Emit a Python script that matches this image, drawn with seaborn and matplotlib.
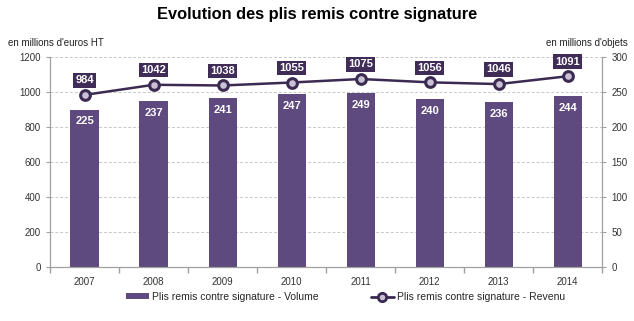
import matplotlib
matplotlib.use("Agg")
import matplotlib.pyplot as plt
import seaborn as sns
import pandas as pd
from matplotlib.lines import Line2D
from matplotlib.patches import Patch

years = ["2007", "2008", "2009", "2010", "2011", "2012", "2013", "2014"]
volume = [225, 237, 241, 247, 249, 240, 236, 244]
revenu = [984, 1042, 1038, 1055, 1075, 1056, 1046, 1091]

bar_color = "#5f4a7f"
line_color = "#3b2a52"
box_color = "#3f2c57"

sns.set_theme(style="white")
plt.rcParams['font.family'] = ['Liberation Sans', 'DejaVu Sans']

fig = plt.figure(figsize=(6.34, 3.21), dpi=100)
ax = fig.add_axes([0.079, 0.168, 0.871, 0.654])
ax2 = ax.twinx()

df = pd.DataFrame({"year": years, "volume": volume, "revenu": revenu})

sns.barplot(data=df, x="year", y="volume", ax=ax, color=bar_color, width=0.41,
            saturation=1, edgecolor="none")
ax.set_ylim(0, 300)
ax.set_yticks([0, 50, 100, 150, 200, 250, 300])
ax.yaxis.tick_right()
ax.yaxis.set_label_position("right")
ax.set_ylabel("")
ax.set_xlabel("")
ax.set_xlim(-0.5, len(years) - 0.5)
for y in [50, 100, 150, 200, 250, 300]:
    ax.axhline(y, color="#c8c8c8", lw=0.7, ls=(0, (3, 2)), zorder=0)

sns.lineplot(data=df, x="year", y="revenu", ax=ax2, color=line_color, lw=1.8,
             marker="o", markersize=7, markerfacecolor="#c9c1d4",
             markeredgecolor=line_color, markeredgewidth=2.2, sort=False)
ax2.set_ylim(0, 1200)
ax2.set_yticks([0, 200, 400, 600, 800, 1000, 1200])
ax2.yaxis.tick_left()
ax2.yaxis.set_label_position("left")
ax2.set_ylabel("")
ax2.set_xlabel("")

for a in (ax, ax2):
    a.spines["top"].set_visible(False)
    for s in ["left", "right", "bottom"]:
        a.spines[s].set_color("#a0a0a0")
        a.spines[s].set_linewidth(0.8)
    a.tick_params(axis="both", labelsize=7, colors="#333333", length=3,
                  width=0.8, direction="out")
    a.tick_params(axis="both", color="#a0a0a0")
ax.tick_params(axis="y", right=True, left=False)
ax2.tick_params(axis="y", left=True, right=False)
ax.set_xticks(range(len(years)))
ax.set_xticks([i - 0.5 for i in range(len(years) + 1)], minor=True)
ax.tick_params(axis="x", which="major", length=0, pad=7)
ax.tick_params(axis="x", which="minor", length=4, color="#a0a0a0", bottom=True)

for i, v in enumerate(volume):
    ax.annotate(str(v), (i, v), xytext=(0, -8.5), textcoords="offset points",
                ha="center", va="center", color="white", fontsize=8,
                fontweight="bold",
                bbox=dict(boxstyle="square,pad=0.2", fc=bar_color, ec="none"))
for i, v in enumerate(revenu):
    ax2.annotate(str(v), (i, v), xytext=(0, 10.5), textcoords="offset points",
                 ha="center", va="center", color="white", fontsize=8,
                 fontweight="bold",
                 bbox=dict(boxstyle="square,pad=0.2", fc=box_color, ec="none"))

fig.text(0.5, 0.955, "Evolution des plis remis contre signature", ha="center",
         va="center", fontsize=11.8, fontweight="bold", color="black")
fig.text(0.013, 0.865, "en millions d'euros HT", ha="left", va="center",
         fontsize=7, color="#222222")
fig.text(0.99, 0.865, "en millions d'objets", ha="right", va="center",
         fontsize=7, color="#222222")

handles = [Patch(facecolor=bar_color, edgecolor="none"),
           Line2D([0], [0], color=line_color, lw=2, marker="o", markersize=6,
                  markerfacecolor="#c9c1d4", markeredgecolor=line_color,
                  markeredgewidth=2)]
labels = ["Plis remis contre signature - Volume",
          "Plis remis contre signature - Revenu"]
fig.legend(handles, labels, loc="center", bbox_to_anchor=(0.545, 0.075), ncol=2,
           frameon=False, fontsize=7.5, columnspacing=5, handlelength=2.2,
           handleheight=0.5, handletextpad=0.3)

fig.savefig("out.png", dpi=100)
